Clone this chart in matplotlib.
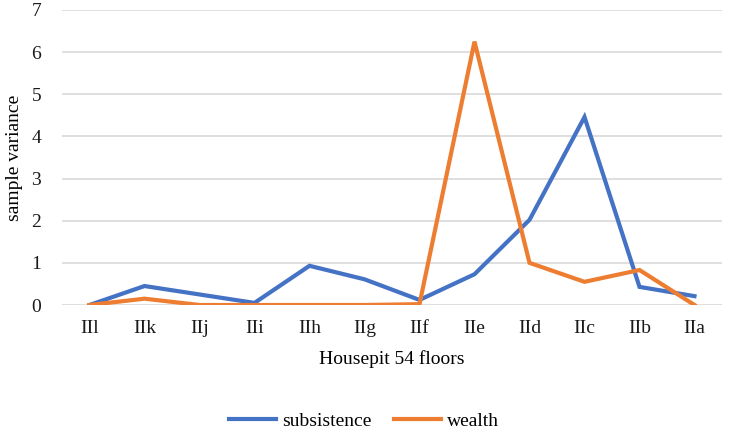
import matplotlib.pyplot as plt
from matplotlib.lines import Line2D

floors = ['IIl', 'IIk', 'IIj', 'IIi', 'IIh', 'IIg', 'IIf', 'IIe', 'IId', 'IIc', 'IIb', 'IIa']
subsistence = [0.0, 0.45, 0.25, 0.05, 0.93, 0.61, 0.12, 0.73, 2.02, 4.46, 0.43, 0.21]
wealth = [0.0, 0.15, 0.0, 0.0, 0.0, 0.0, 0.02, 6.25, 1.0, 0.55, 0.83, 0.0]

plt.rcParams['font.family'] = ['Liberation Serif', 'DejaVu Serif']

fig = plt.figure(figsize=(7.31, 4.33), dpi=100)
ax = fig.add_axes([62 / 731, 1 - 305 / 433, 660 / 731, 295 / 433])

x = range(len(floors))
ax.plot(x, subsistence, color='#4472C4', lw=3, solid_joinstyle='miter', label='subsistence')
ax.plot(x, wealth, color='#ED7D31', lw=3, solid_joinstyle='miter', label='wealth')

ax.set_xlim(-0.5, len(floors) - 0.5)
ax.set_ylim(0, 7)
ax.set_yticks(range(0, 8))
ax.set_xticks(list(x))
ax.set_xticklabels(floors)
ax.tick_params(length=0, labelsize=14, colors='#1a1a1a')
ax.tick_params(axis='x', pad=11)
ax.tick_params(axis='y', pad=15)
ax.grid(axis='y', color='#D9D9D9', lw=1.2)
ax.set_axisbelow(True)
for s in ax.spines.values():
    s.set_visible(False)

ax.set_xlabel('Housepit 54 floors', fontsize=14, labelpad=9)
ax.set_ylabel('sample variance', fontsize=14, labelpad=6)

handles = [Line2D([], [], color='#4472C4', lw=3), Line2D([], [], color='#ED7D31', lw=3)]
fig.legend(handles, ['subsistence', 'wealth'], loc='center', bbox_to_anchor=(364 / 731, 1 - 421 / 433),
           ncol=2, frameon=False, fontsize=14, handlelength=2.4, handletextpad=0.3, columnspacing=1.2)

fig.savefig('out.png', dpi=100)
